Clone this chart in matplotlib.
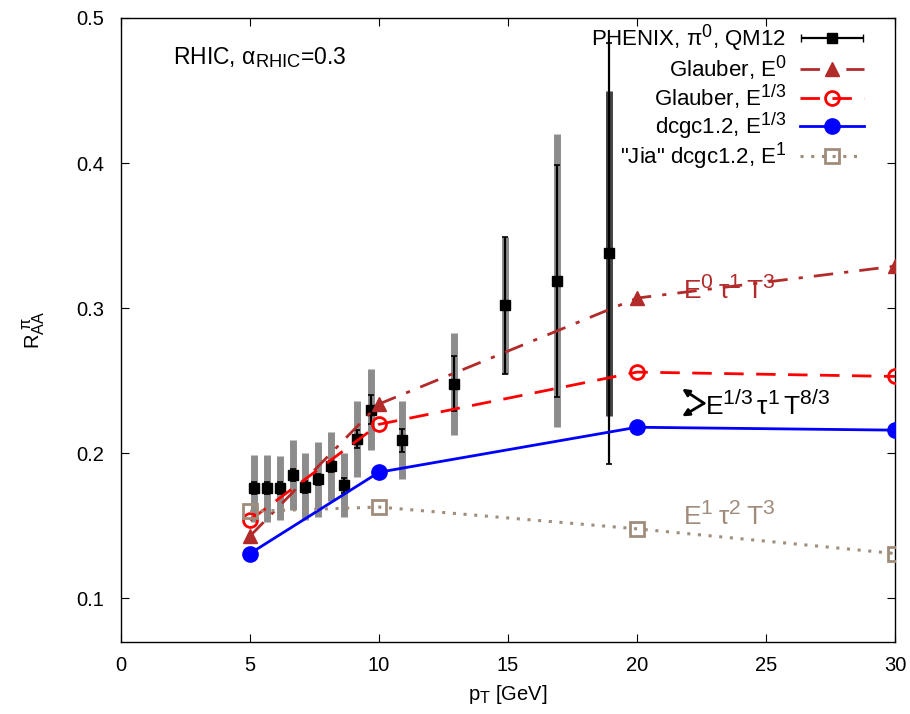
import numpy as np
import matplotlib
matplotlib.use("Agg")
import matplotlib.pyplot as plt
import matplotlib._mathtext as mathtext_internal
from matplotlib.legend_handler import HandlerErrorbar

plt.rcParams['font.family'] = ['Liberation Sans', 'DejaVu Sans']
plt.rcParams['mathtext.fontset'] = 'custom'
plt.rcParams['mathtext.rm'] = 'Liberation Sans'
plt.rcParams['mathtext.it'] = 'Liberation Sans'
plt.rcParams['mathtext.bf'] = 'Liberation Sans'
plt.rcParams['mathtext.default'] = 'regular'
# larger super/subscripts, closer to the gnuplot look
mathtext_internal.SHRINK_FACTOR = 0.8

# PHENIX pi0 R_AA (QM12)
pt_data = [5.15, 5.65, 6.15, 6.65, 7.15, 7.65, 8.15, 8.65, 9.15, 9.7, 10.9, 12.9, 14.9, 16.9, 18.9]
raa_data = [0.176, 0.176, 0.176, 0.185, 0.177, 0.182, 0.191, 0.178, 0.210, 0.230, 0.209, 0.248, 0.302, 0.319, 0.338]
stat_err = [0.004, 0.004, 0.004, 0.004, 0.004, 0.004, 0.004, 0.005, 0.006, 0.010, 0.008, 0.019, 0.047, 0.080, 0.145]
sys_err = [0.023, 0.023, 0.022, 0.024, 0.023, 0.026, 0.024, 0.022, 0.026, 0.028, 0.027, 0.035, 0.047, 0.101, 0.112]

# model curves
pt_model = [5, 10, 20, 30]
glauber_e0 = [0.143, 0.234, 0.307, 0.329]
glauber_e13 = [0.154, 0.220, 0.256, 0.253]
dcgc_e13 = [0.131, 0.187, 0.218, 0.216]
jia_e1 = [0.160, 0.163, 0.148, 0.131]

brown = '#b22a2a'
red = '#ff0000'
blue = '#0000ff'
tan = '#a08c7b'

fig = plt.figure(figsize=(9.1, 7.14), dpi=100)
ax = fig.add_axes([0.133, 0.1008, 0.8505, 0.874])

# systematic bands as thick grey bars, statistical as thin black bars
sys_colors = ['#8c8c8c'] * (len(pt_data) - 1) + ['#444444']
for x, y, s, c in zip(pt_data, raa_data, sys_err, sys_colors):
    ax.plot([x, x], [y - s, y + s], color=c, lw=5, solid_capstyle='butt', zorder=1)
ax.errorbar(pt_data, raa_data, yerr=stat_err, fmt='s', color='black', ms=7,
            lw=1.6, capsize=2.5, capthick=1.2, zorder=2)

# legend proxy for the data (horizontal bar with caps)
phenix = ax.errorbar([np.nan], [np.nan], xerr=[1], fmt='s', color='black', ms=7,
                     lw=1.6, capsize=3, label=r'PHENIX, $\pi^0$, QM12')

l_e0, = ax.plot(pt_model, glauber_e0, color=brown, lw=2, dashes=(7, 4, 1.5, 4),
                marker='^', ms=10, mfc=brown, mec=brown, zorder=3,
                label=r'Glauber, $E^0$')
l_e13, = ax.plot(pt_model, glauber_e13, color=red, lw=2, dashes=(7, 4.5),
                 marker='o', ms=10, mfc='none', mec=red, mew=2, zorder=3,
                 label=r'Glauber, $E^{1/3}$')
l_dcgc, = ax.plot(pt_model, dcgc_e13, color=blue, lw=2, marker='o', ms=11,
                  mfc=blue, mec=blue, zorder=3, label=r'dcgc1.2, $E^{1/3}$')
l_jia, = ax.plot(pt_model, jia_e1, color=tan, lw=2.2, dashes=(1, 2.5), marker='s',
                 ms=10, mfc='none', mec=tan, mew=2, zorder=3,
                 label=r'"Jia" dcgc1.2, $E^1$')

ax.text(2.0, 0.473, r'RHIC, $\alpha_{RHIC}$=0.3', fontsize=16.5, va='center')
ax.text(21.8, 0.3125, r'$E^{0}\:τ^{1}\:T^{3}$', color=brown, fontsize=19, va='center')
ax.text(22.65, 0.2335, r'$E^{1/3}\,τ^{1}\,T^{8/3}$', color='black', fontsize=19,
        va='center')
ax.text(21.8, 0.157, r'$E^{1}\:τ^{2}\:T^{3}$', color=tan, fontsize=19, va='center')
for y_end in (0.2445, 0.2255):
    ax.annotate('', xy=(21.75, y_end), xytext=(22.6, 0.2345),
                arrowprops=dict(arrowstyle='-|>', color='black', lw=2,
                                mutation_scale=10, shrinkA=0, shrinkB=0))

ax.set_xlim(0, 30)
ax.set_ylim(0.07, 0.5)
ax.set_xticks(np.arange(0, 31, 5))
ax.set_yticks([0.1, 0.2, 0.3, 0.4, 0.5])
ax.set_yticklabels(['0.1', '0.2', '0.3', '0.4', '0.5'])
ax.tick_params(direction='in', top=True, right=True, length=6, width=0.8,
               labelsize=14.5)
ax.tick_params(axis='x', pad=10)
ax.tick_params(axis='y', pad=12)
for sp in ax.spines.values():
    sp.set_linewidth(1.0)

ax.set_xlabel(r'$p_T$ [GeV]', fontsize=14.5, labelpad=6)
ax.set_ylabel(r'$R_{AA}^{\ \pi}$', fontsize=14.5, labelpad=21)

ax.legend([phenix, l_e0, l_e13, l_dcgc, l_jia],
          [phenix.get_label(), l_e0.get_label(), l_e13.get_label(),
           l_dcgc.get_label(), l_jia.get_label()],
          loc='upper right', bbox_to_anchor=(0.966, 1.0), frameon=False,
          markerfirst=False, fontsize=16, handlelength=2.9, handletextpad=0.6,
          labelspacing=-0.02, borderaxespad=0.0, borderpad=0.2, numpoints=1,
          handler_map={phenix: HandlerErrorbar(xerr_size=1.4)})

fig.savefig('out.png', dpi=100)
